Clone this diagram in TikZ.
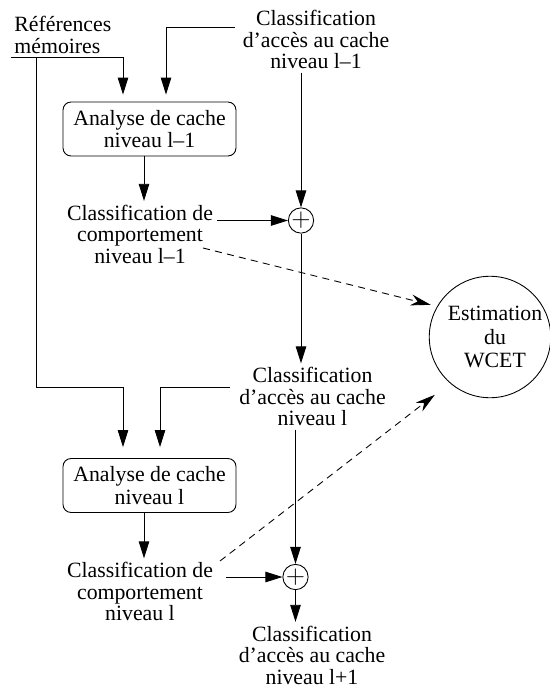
\documentclass[tikz,border=0pt]{standalone}
\usepackage{fontspec}
\setmainfont{Liberation Serif}
\usetikzlibrary{arrows.meta}

\begin{document}
\begin{tikzpicture}[x=0.02cm, y=-0.02cm, line width=0.5pt,
	txt/.style={align=center, inner sep=2pt, font=\fontsize{12.4}{12.2}\selectfont},
	box/.style={draw, rounded corners=0.16cm, minimum width=3.46cm,
	minimum height=1.08cm, align=center, font=\fontsize{12.4}{13}\selectfont},
	sum/.style={circle, draw, inner sep=0pt, minimum size=0.44cm, font=\Large},
	dep/.style={dash pattern=on 4pt off 3pt, -{Stealth[length=0.4cm,width=0.22cm]}},
	>={Triangle[length=0.34cm,width=0.21cm]}]
\useasboundingbox (0,0) rectangle (550,690);

\node[txt, align=left, anchor=west] (refs) at (10.5,35) {Références\\mémoires};
\node[txt] (A0) at (316,39.5) {Classification\\d'accès au cache\\niveau l--1};
\node[box] (box1) at (149.5,129) {Analyse de cache\\niveau l--1};
\node[txt] (B1) at (140,234) {Classification de\\comportement\\niveau l--1};
\node[sum] (p1) at (301,220.5) {$+$};
\node[txt] (A1) at (312.5,396.5) {Classification\\d'accès au cache\\niveau l};
\node[box] (box2) at (149.5,485.5) {Analyse de cache\\niveau l};
\node[txt] (B2) at (140,591.5) {Classification de\\comportement\\niveau l};
\node[sum] (p2) at (295.5,577) {$+$};
\node[txt] (A2) at (312,655) {Classification\\d'accès au cache\\niveau l+1};
\node[circle, draw, minimum size=2.32cm, inner sep=0pt, align=center,
	font=\fontsize{12.4}{13.6}\selectfont] (wcet) at (490,337)
	{\hspace*{0.2cm}Estimation\\\hspace*{0.2cm}du\\\hspace*{0.2cm}WCET};

\coordinate (tap) at (36,58);
\coordinate (fb1) at (235,27);
\coordinate (fb2) at (230,387);
\coordinate (in1) at ([shift={(-26.5,-7)}]box1.north);
\coordinate (in2) at ([shift={(16.5,-7)}]box1.north);
\coordinate (in3) at ([shift={(-26.5,-11)}]box2.north);
\coordinate (in4) at ([shift={(10.5,-11)}]box2.north);
\coordinate (d1) at (203,248);
\coordinate (d2) at (220,561);

\draw[->] (refs.south west) -| (in1);
\draw[->] (fb1) -| (in2);
\draw[->] (tap) |- (in3 |- fb2) -- (in3);
\draw[->] (fb2) -| (in4);
\draw[->] ([xshift=-0.11cm]box1.south) -- ([xshift=-0.11cm]box1.south |- B1.north);
\draw[->] ([xshift=-0.11cm]box2.south) -- ([xshift=-0.11cm]box2.south |- B2.north);
\draw[->] (p1 |- A0.south) -- (p1);
\draw[->] (B1.east |- p1) -- (p1);
\draw[->] (p1) -- (p1 |- A1.north);
\draw[->] (p2 |- A1.south) -- (p2);
\draw[->, shorten <=0.19cm] (B2.east |- p2) -- (p2);
\draw[->] (p2) -- (p2 |- A2.north);
\draw[dep, shorten >=0.13cm] (d1) -- (wcet.150);
\draw[dep, shorten >=0.38cm] (d2) -- (wcet.229);
\end{tikzpicture}
\end{document}
